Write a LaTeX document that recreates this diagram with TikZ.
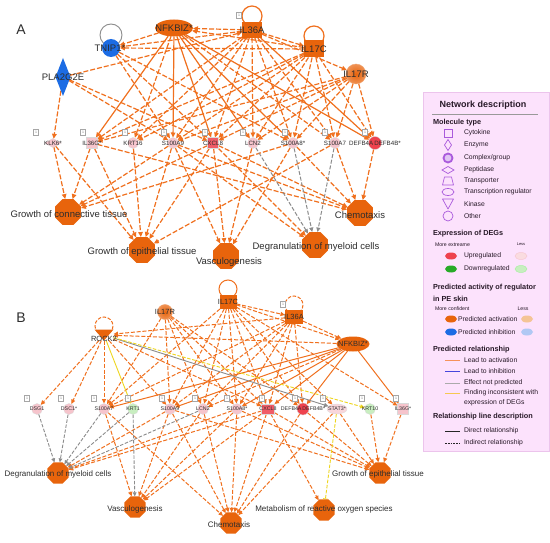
\documentclass[tikz,border=0pt]{standalone}
\usepackage{fontspec}
\setmainfont{Liberation Sans}
\usetikzlibrary{shapes.geometric,arrows.meta}
\pgfdeclarelayer{bg}
\pgfdeclarelayer{bgw}
\pgfsetlayers{bgw,bg,main}
\definecolor{org}{RGB}{232,100,12}
\definecolor{edg}{RGB}{240,112,30}
\definecolor{pnk}{RGB}{246,196,204}
\definecolor{redn}{RGB}{238,66,78}
\definecolor{grn}{RGB}{200,238,192}
\definecolor{dgrn}{RGB}{40,170,40}
\definecolor{blu}{RGB}{28,108,228}
\definecolor{lorg}{RGB}{244,196,150}
\definecolor{lblu}{RGB}{176,200,244}
\definecolor{gry}{RGB}{140,140,140}
\definecolor{yel}{RGB}{238,214,30}
\definecolor{legbg}{RGB}{252,226,252}
\definecolor{legln}{RGB}{236,196,236}
\definecolor{purp}{RGB}{170,90,220}
\definecolor{txt}{RGB}{45,45,45}
\definecolor{ltxt}{RGB}{40,25,40}
\definecolor{lgor}{RGB}{246,146,90}
\definecolor{lgbl}{RGB}{70,70,220}
\definecolor{lggr}{RGB}{170,170,170}
\definecolor{lgye}{RGB}{246,200,80}
\begin{document}
\begin{tikzpicture}[x=1pt,y=-1pt,
 every node/.style={inner sep=0pt,outer sep=0pt},
 lA/.style={text=txt,font=\fontsize{6.2}{7}\selectfont},
 lB/.style={text=txt,font=\fontsize{5.3}{6}\selectfont},
 rA/.style={text=txt,font=\fontsize{9.5}{10}\selectfont},
 rB/.style={text=txt,font=\fontsize{7.5}{8}\selectfont},
 fA/.style={text=txt,font=\fontsize{9.5}{10}\selectfont},
 fB/.style={text=txt,font=\fontsize{8}{9}\selectfont},
 octA/.style={regular polygon,regular polygon sides=8,minimum size=28pt,fill=org},
 octB/.style={regular polygon,regular polygon sides=8,minimum size=23pt,fill=org},
 cir/.style={circle,minimum size=11pt,draw=white!70!gray,line width=0.3pt},
 sqr/.style={rectangle,minimum size=11pt,draw=white!70!gray,line width=0.3pt},
 pep/.style={diamond,minimum width=17pt,minimum height=9pt,draw=white!70!gray,line width=0.3pt},
 onebx/.style={draw=gray!70,fill=white,line width=0.3pt,minimum width=5pt,minimum height=6pt,font=\fontsize{3.5}{4}\selectfont,text=gray},
 ea/.style={draw=edg,line width=1.2pt,dash pattern=on 5pt off 2pt,-{Triangle[length=5pt,width=4.5pt]}},
 sa/.style={draw=edg,line width=1.2pt,-{Triangle[length=5pt,width=4.5pt]}},
 ga/.style={draw=gry,line width=1pt,dash pattern=on 4pt off 1.8pt,-{Triangle[length=4.5pt,width=4pt]}},
 eb/.style={draw=edg,line width=1pt,dash pattern=on 4pt off 1.8pt,-{Triangle[length=4.5pt,width=4pt]}},
 sb/.style={draw=edg,line width=1pt,-{Triangle[length=4.5pt,width=4pt]}},
 gb/.style={draw=gry,line width=0.9pt,dash pattern=on 3.5pt off 1.6pt,-{Triangle[length=4pt,width=3.6pt]}},
 legt/.style={text=ltxt,font=\fontsize{6.8}{7}\selectfont,anchor=west},
 legh/.style={text=ltxt,font=\bfseries\fontsize{7.3}{8}\selectfont,anchor=west},
 legs/.style={text=ltxt,font=\fontsize{5.2}{6}\selectfont},
 legsym/.style={draw=purp,line width=0.7pt},
 legov/.style={ellipse,minimum width=12pt,minimum height=7pt}
]
\useasboundingbox (0,0) rectangle (550,543);
\begin{pgfonlayer}{bgw}
\fill[white] (0,0) rectangle (550,543);
\end{pgfonlayer}

% ================= PANEL A =================
\node[text=txt,font=\fontsize{14}{14}\selectfont] (labA) at (21,30) {A};
% regulators
\node[circle,minimum size=18pt,fill=blu] (ATN) at (111,48) {};
\node[rA] (ATNt) at (110,48) {TNIP1*};
\node[ellipse,minimum width=38pt,minimum height=17pt,fill=org] (ANF) at (174,28) {};
\node[rA] (ANFt) at (174,28) {NFKBIZ*};
\node[rectangle,minimum width=20pt,minimum height=16pt,fill=org] (A36A) at (252,30) {};
\node[rA] (A36At) at (252,30) {IL36A};
\node[onebx] (A36Ab) at (239,15) {1};
\node[rectangle,minimum width=20pt,minimum height=17pt,fill=org] (A17C) at (314,49) {};
\node[rA] (A17Ct) at (314,49) {IL17C};
\node[circle,minimum size=20pt,inner color=org,outer color=org!70!white,draw=org!60!white,line width=0.4pt] (A17R) at (356,74) {};
\node[rA] (A17Rt) at (356,74) {IL17R};
\node[diamond,minimum width=15pt,minimum height=38pt,fill=blu] (APL) at (63,77) {};
\node[rA] (APLt) at (63,77) {PLA2G2E};
% targets
\node[pep,fill=pnk,label={[lA,name=AKLt]center:KLK6*}] (AKL) at (53,143) {};
\node[sqr,fill=pnk,label={[lA,name=A36Gt]center:IL36G*}] (A36G) at (92,143) {};
\node[cir,fill=pnk,label={[lA,name=AK16t]center:KRT16}] (AK16) at (133,143) {};
\node[cir,fill=pnk,label={[lA,name=AS9t]center:S100A9}] (AS9) at (173,143) {};
\node[sqr,fill=redn!80!pnk,label={[lA,name=AC8t]center:CXCL8}] (AC8) at (213,143) {};
\node[cir,fill=pnk,label={[lA,name=ALCt]center:LCN2}] (ALC) at (253,143) {};
\node[cir,fill=pnk,label={[lA,name=AS8t]center:S100A8*}] (AS8) at (293,143) {};
\node[cir,fill=pnk,label={[lA,name=AS7t]center:S100A7}] (AS7) at (335,143) {};
\node[cir,minimum size=13pt,fill=redn,label={[lA,name=ADFt]center:DEFB4A\,DEFB4B*}] (ADF) at (375,143) {};
\foreach \x [count=\i] in {36,83,125,164,205,243,285,325,365}
  \node[onebx] (Ab\i) at (\x,132) {1};
% functions
\node[octA] (AGC) at (68,212) {};
\node[fA] (AGCt) at (69,214) {Growth of connective tissue};
\node[octA] (AGE) at (142,250) {};
\node[fA] (AGEt) at (142,252) {Growth of epithelial tissue};
\node[octA] (AVA) at (226,256) {};
\node[fA] (AVAt) at (229,262) {Vasculogenesis};
\node[octA] (ADG) at (315,245) {};
\node[fA] (ADGt) at (316,247) {Degranulation of myeloid cells};
\node[octA] (ACH) at (360,213) {};
\node[fA] (ACHt) at (360,215) {Chemotaxis};

\begin{pgfonlayer}{bg}
\draw[gry,line width=0.9pt] (111,35) circle[radius=11];
\draw[edg,line width=1.2pt] (252,16) circle[radius=10];
\draw[edg,line width=1.2pt] (314,36) circle[radius=10];
\foreach \a/\b in {ANF/ATN,A36A/ANF,A17C/ANF,A36A/A17C,A17C/ATN,A36A/ATN,APL/A36A,A36A/A17R,
  APL/AKL,APL/AS9,APL/AC8,ATN/AS9,ATN/AC8,ATN/AS8,ANF/AK16,ANF/AS7,
  A36A/A36G,A36A/AK16,A36A/AS9,A36A/AC8,A36A/ALC,A36A/AS8,A36A/AS7,
  A17C/A36G,A17C/AS9,A17C/AC8,A17C/ALC,A17C/AS8,A17C/AS7,A17C/ADF,A17C/AK16,
  A17R/A36G,A17R/AS9,A17R/AC8,A17R/ALC,A17R/AS8,A17R/AS7,A17R/ADF,
  AKL/AGC,AKL/AGE,A36G/AGC,A36G/AGE,A36G/ACH,AK16/AGE,AS9/AGC,AS9/AGE,AS9/AVA,AS9/ADG,AS9/ACH,
  AC8/AGC,AC8/AGE,AC8/AVA,AC8/ACH,AC8/ADG,ALC/AVA,AS8/AGC,AS8/AVA,AS8/ACH,AS7/AGE,AS7/ACH,ADF/ACH}
  \draw[ea] (\a) -- (\b);
\foreach \a/\b in {ANF/A36G,ANF/AS9,ANF/AC8,ANF/ALC,ANF/AS8,ANF/ADF,A36A/ADF}
  \draw[sa] (\a) -- (\b);
\foreach \a/\b in {ALC/ADG,AS8/ADG,AS7/ADG}
  \draw[ga] (\a) -- (\b);
\end{pgfonlayer}

% ================= PANEL B =================
\node[text=txt,font=\fontsize{14}{14}\selectfont] (labB) at (21,318) {B};
\node[circle,minimum size=15pt,inner color=org,outer color=org!70!white,draw=org!60!white,line width=0.4pt] (B17R) at (165,312) {};
\node[rB] (B17Rt) at (165,312) {IL17R};
\node[rectangle,minimum width=19pt,minimum height=11pt] (BRK) at (104,335) {};
\fill[org] (BRK.north west) -- (BRK.north east) -- (BRK.south) -- cycle;
\node[rB] (BRKt) at (104,339) {ROCK2};
\node[rectangle,minimum width=17pt,minimum height=14pt,fill=org] (B17C) at (228,302) {};
\node[rB] (B17Ct) at (228,302) {IL17C};
\node[rectangle,minimum width=18pt,minimum height=14pt,fill=org] (B36A) at (294,317) {};
\node[rB] (B36At) at (294,317) {IL36A};
\node[onebx] (B36Ab) at (283,304) {1};
\node[ellipse,minimum width=33pt,minimum height=15pt,fill=org] (BNF) at (353,344) {};
\node[rB] (BNFt) at (353,344) {NFKBIZ*};
% targets
\node[cir,fill=pnk,label={[lB,name=BDSGt]center:DSG1}] (BDSG) at (37,409) {};
\node[cir,fill=pnk,label={[lB,name=BDSCt]center:DSC1*}] (BDSC) at (69,409) {};
\node[cir,fill=pnk,label={[lB,name=BS7t]center:S100A7}] (BS7) at (104,409) {};
\node[cir,fill=grn,label={[lB,name=BK1t]center:KRT1}] (BK1) at (133,409) {};
\node[cir,fill=pnk,label={[lB,name=BS9t]center:S100A9}] (BS9) at (170,409) {};
\node[cir,fill=pnk,label={[lB,name=BLCt]center:LCN2}] (BLC) at (203,409) {};
\node[cir,fill=pnk,label={[lB,name=BS8t]center:S100A8*}] (BS8) at (237,409) {};
\node[rectangle,minimum width=13pt,minimum height=10pt,draw=white!70!gray,line width=0.3pt,fill=redn!80!pnk,label={[lB,name=BC8t]center:CXCL8}] (BC8) at (268,409) {};
\node[cir,minimum size=12pt,fill=redn,label={[lB,name=BDFt]center:DEFB4A\,DEFB4B*}] (BDF) at (303,409) {};
\node[ellipse,minimum width=20pt,minimum height=10pt,draw=white!70!gray,line width=0.3pt,fill=pnk!70,label={[lB,name=BSTt]center:STAT3*}] (BST) at (337,409) {};
\node[cir,fill=grn,label={[lB,name=BK10t]center:KRT10}] (BK10) at (370,409) {};
\node[sqr,fill=pnk,label={[lB,name=B36Gt]center:IL36G*}] (B36G) at (403,409) {};
\foreach \x [count=\i] in {27,61,94,128,162,195,227,262,295,323,362,396}
  \node[onebx] (Bb\i) at (\x,398) {1};
% functions
\node[octB] (BFD) at (58,473) {};
\node[fB] (BFDt) at (58,474) {Degranulation of myeloid cells};
\node[octB] (BFV) at (135,507) {};
\node[fB] (BFVt) at (135,509) {Vasculogenesis};
\node[octB] (BFC) at (231,523) {};
\node[fB] (BFCt) at (229,525) {Chemotaxis};
\node[octB] (BFM) at (324,510) {};
\node[fB] (BFMt) at (324,509) {Metabolism of reactive oxygen species};
\node[octB] (BFG) at (380,473) {};
\node[fB] (BFGt) at (378,474) {Growth of epithelial tissue};

\begin{pgfonlayer}{bg}
\draw[edg,line width=1pt] (228,289) circle[radius=9];
\draw[edg,line width=1pt,dash pattern=on 3.5pt off 1.6pt] (294,305) circle[radius=9];
\draw[edg,line width=1pt,dash pattern=on 3.5pt off 1.6pt] (104,326) circle[radius=9];
\foreach \a/\b in {B17C/B36A,B36A/BNF,B17C/BNF,BNF/BRK,B36A/BRK,
  BRK/BDSG,BRK/BDSC,BRK/BS7,BRK/BS9,BRK/BC8,
  B17R/BS7,B17R/BS9,B17R/BLC,B17R/BS8,B17R/BC8,B17R/BDF,
  B17C/BS7,B17C/BS9,B17C/BLC,B17C/BS8,B17C/BC8,B17C/BDF,B17C/B36G,B17C/BST,
  B36A/BS9,B36A/BS8,B36A/BC8,B36A/BDF,B36A/BS7,B36A/BLC,BNF/BLC,
  BS7/BFV,BS7/BFC,BS9/BFD,BS9/BFV,BS9/BFC,BS9/BFG,BLC/BFV,BLC/BFC,
  BS8/BFD,BS8/BFV,BS8/BFC,BS8/BFG,BC8/BFV,BC8/BFC,BC8/BFG,BC8/BFM,BC8/BFD,
  BDF/BFC,BDF/BFG,BST/BFG,BST/BFC,BK10/BFG,B36G/BFG}
  \draw[eb] (\a) -- (\b);
\foreach \a/\b in {BNF/BS7,BNF/BS9,BNF/BS8,BNF/BC8,BNF/BDF,BNF/B36G}
  \draw[sb] (\a) -- (\b);
\foreach \a/\b in {BDSG/BFD,BDSC/BFD,BS7/BFD,BK1/BFD,BK1/BFV,BLC/BFD}
  \draw[gb] (\a) -- (\b);
\draw[draw=gry,line width=0.9pt,-{Triangle[length=4.5pt,width=4pt]}] (BRK) -- (BST);
\draw[draw=yel,line width=0.9pt,-{Triangle[length=4.5pt,width=4pt]}] (BRK) -- (BK1);
\draw[draw=yel,line width=0.9pt,dash pattern=on 3.5pt off 1.6pt,-{Triangle[length=4.5pt,width=4pt]}] (BRK) -- (BK10);
\draw[draw=yel,line width=0.9pt,dash pattern=on 3.5pt off 1.6pt,-{Bar[width=4.5pt]}] (BST) -- (BFM);
\end{pgfonlayer}

% ================= LEGEND =================
\fill[legbg] (423,92) rectangle (549,451);
\draw[legln,line width=0.6pt] (423,92) rectangle (549,451);
\node[text=ltxt,font=\bfseries\fontsize{9}{10}\selectfont] (Ltitle) at (483,105) {Network description};
\draw[gray!80,line width=0.5pt] (432,114) -- (538,114);
\node[legh] (Lh1) at (433,123) {Molecule type};
\node[legsym,rectangle,minimum size=8pt] (Ls1) at (448,133) {};
\node[legt] (Lt1) at (464,133) {Cytokine};
\node[legsym,diamond,minimum width=7pt,minimum height=11pt] (Ls2) at (448,145) {};
\node[legt] (Lt2) at (464,145) {Enzyme};
\node[legsym,circle,line width=1.8pt,fill=purp!35,minimum size=9pt] (Ls3) at (448,158) {};
\node[legt] (Lt3) at (464,158) {Complex/group};
\node[legsym,diamond,minimum width=12pt,minimum height=7pt] (Ls4) at (448,170) {};
\node[legt] (Lt4) at (464,170) {Peptidase};
\draw[purp,line width=0.7pt,line join=round] (444.5,177) -- (451.5,177) -- (453.5,185) -- (442.5,185) -- cycle;
\node[legt] (Lt5) at (464,181) {Transporter};
\node[legsym,legov] (Ls6) at (448,192) {};
\node[legt] (Lt6) at (464,192) {Transcription regulator};
\draw[purp,line width=0.7pt,line join=round] (442.5,199) -- (453.5,199) -- (448,209) -- cycle;
\node[legt] (Lt7) at (464,204) {Kinase};
\node[legsym,circle,minimum size=10pt] (Ls8) at (448,216) {};
\node[legt] (Lt8) at (464,216) {Other};

\node[legh] (Lh2) at (433,234) {Expression of DEGs};
\node[legs,anchor=west] (Lm1) at (435,245) {More extreame};
\node[legs,font=\fontsize{4}{5}\selectfont] (Ll1) at (521,244) {Less};
\node[legov,fill=redn] (Le1) at (451,256) {};
\node[legt] (Lte1) at (464,256) {Upregulated};
\node[legov,fill=pnk!60,draw=pnk,line width=0.4pt] (Le1b) at (521,256) {};
\node[legov,fill=dgrn] (Le2) at (451,269) {};
\node[legt] (Lte2) at (464,269) {Downregulated};
\node[legov,fill=grn,draw=grn!80!green,line width=0.4pt] (Le2b) at (521,269) {};

\node[legh] (Lh3) at (433,288) {Predicted activity of regulator};
\node[legh] (Lh3b) at (433,299) {in PE skin};
\node[legs,anchor=west] (Lm2) at (435,309) {More confident};
\node[legs] (Ll2) at (523,309) {Less};
\node[legov,fill=org] (La1) at (451,319) {};
\node[legt] (Lta1) at (458,319) {Predicted activation};
\node[legov,fill=lorg] (La1b) at (527,319) {};
\node[legov,fill=blu] (La2) at (451,332) {};
\node[legt] (Lta2) at (458,332) {Predicted inhibition};
\node[legov,fill=lblu] (La2b) at (527,332) {};

\node[legh] (Lh4) at (433,350) {Predicted relationship};
\coordinate (Lr1a) at (445,360); \coordinate (Lr1b) at (460,360);
\draw[draw=lgor,line width=1pt] (Lr1a) -- (Lr1b);
\node[legt] (Ltr1) at (464,360) {Lead to activation};
\coordinate (Lr2a) at (445,371); \coordinate (Lr2b) at (460,371);
\draw[draw=lgbl,line width=1pt] (Lr2a) -- (Lr2b);
\node[legt] (Ltr2) at (464,371) {Lead to inhibition};
\coordinate (Lr3a) at (445,383); \coordinate (Lr3b) at (460,383);
\draw[draw=lggr,line width=1pt] (Lr3a) -- (Lr3b);
\node[legt] (Ltr3) at (464,383) {Effect not predicted};
\coordinate (Lr4a) at (445,393); \coordinate (Lr4b) at (460,393);
\draw[draw=lgye,line width=1pt] (Lr4a) -- (Lr4b);
\node[legt] (Ltr4) at (464,393) {Finding inconsistent with};
\node[legt] (Ltr4b) at (464,403) {expression of DEGs};

\node[legh] (Lh5) at (433,417) {Relationship line description};
\coordinate (Lr5a) at (445,431); \coordinate (Lr5b) at (460,431);
\draw[draw=black!85,line width=1pt] (Lr5a) -- (Lr5b);
\node[legt] (Ltr5) at (464,431) {Direct relationship};
\coordinate (Lr6a) at (445,443); \coordinate (Lr6b) at (460,443);
\draw[draw=black!85,line width=0.7pt,dash pattern=on 1.8pt off 1pt] (Lr6a) -- (Lr6b);
\node[legt] (Ltr6) at (464,443) {Indirect relationship};
\end{tikzpicture}
\end{document}
